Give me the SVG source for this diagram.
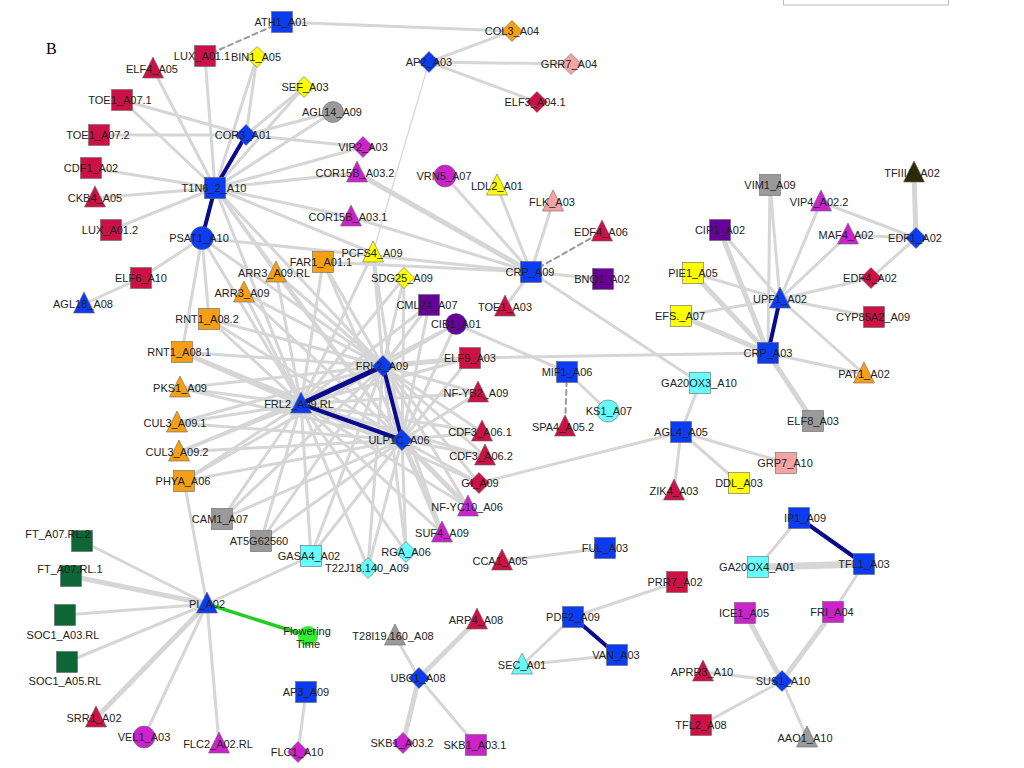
<svg xmlns="http://www.w3.org/2000/svg" xmlns:xlink="http://www.w3.org/1999/xlink" width="1024" height="768" viewBox="0 0 1024 768">
<style>
text{font-family:"Liberation Sans",Arial,sans-serif;font-size:11px;fill:#222;text-anchor:middle}
.e line{stroke:#d6d6d6;stroke-width:3;stroke-linecap:round}
.e line.w{stroke-width:5}
.e line.t{stroke-width:1.2}
.e line.d{stroke:#999;stroke-width:2;stroke-dasharray:5 4}
.e line.b{stroke:#0a0a8c;stroke-width:4}
.e line.g{stroke:#22cc22;stroke-width:3.5}
use,circle{stroke:#666;stroke-width:0.6}
.rd{fill:#cc1144}.bl{fill:#0b3cf2}.or{fill:#f5a014}.yl{fill:#ffff00}.gy{fill:#9a9a9a}
.mg{fill:#cc22cc}.pu{fill:#660099}.cy{fill:#66ffff}.pk{fill:#f5a3a3}.dg{fill:#0d6635}
.ol{fill:#2b2b05}.gr{fill:#33ee33}
</style>
<defs>
<rect id="sq" x="-10.5" y="-10.5" width="21" height="21"/>
<path id="tri" d="M0,-12 L10.5,9 L-10.5,9Z"/>
<path id="dia" d="M0,-10.5 L10.5,0 L0,10.5 L-10.5,0Z"/>
</defs>
<rect width="1024" height="768" fill="#fff"/>
<rect x="783.5" y="-20" width="165" height="25" fill="none" stroke="#bbb" stroke-width="1"/>
<text x="46" y="54" style="font-family:'Liberation Serif',serif;font-size:16px;text-anchor:start;fill:#000">B</text>
<g id="edges" class="e">
<line x1="282" y1="22" x2="512" y2="31"/>
<line x1="512" y1="31" x2="429" y2="62"/>
<line x1="429" y1="62" x2="571" y2="64"/>
<line x1="429" y1="62" x2="537" y2="102"/>
<line class="t" x1="429" y1="62" x2="373" y2="253"/>
<line x1="215" y1="188" x2="205" y2="56"/>
<line x1="215" y1="188" x2="257" y2="57"/>
<line x1="246" y1="135" x2="257" y2="57"/>
<line x1="215" y1="188" x2="304" y2="87"/>
<line x1="246" y1="135" x2="304" y2="87"/>
<line x1="215" y1="188" x2="333" y2="112"/>
<line x1="215" y1="188" x2="153" y2="69"/>
<line x1="215" y1="188" x2="122" y2="100"/>
<line x1="246" y1="135" x2="122" y2="100"/>
<line x1="246" y1="135" x2="99" y2="135"/>
<line x1="246" y1="135" x2="363" y2="147"/>
<line x1="246" y1="135" x2="333" y2="112"/>
<line x1="215" y1="188" x2="91" y2="168"/>
<line x1="215" y1="188" x2="95" y2="198"/>
<line x1="215" y1="188" x2="111" y2="230"/>
<line x1="215" y1="188" x2="363" y2="147"/>
<line x1="215" y1="188" x2="357" y2="173"/>
<line x1="215" y1="188" x2="351" y2="217"/>
<line x1="215" y1="188" x2="373" y2="253"/>
<line x1="215" y1="188" x2="301" y2="404"/>
<line x1="215" y1="188" x2="383" y2="366"/>
<line x1="215" y1="188" x2="402" y2="440"/>
<line x1="215" y1="188" x2="276" y2="273"/>
<line x1="202" y1="238" x2="141" y2="278"/>
<line x1="141" y1="278" x2="84" y2="304"/>
<line x1="202" y1="238" x2="209" y2="319"/>
<line x1="202" y1="238" x2="182" y2="352"/>
<line x1="202" y1="238" x2="531" y2="272"/>
<line x1="202" y1="238" x2="301" y2="404"/>
<line x1="202" y1="238" x2="383" y2="366"/>
<line class="w" x1="357" y1="173" x2="531" y2="272"/>
<line x1="351" y1="217" x2="531" y2="272"/>
<line x1="445" y1="176" x2="531" y2="272"/>
<line x1="497" y1="186" x2="531" y2="272"/>
<line x1="553" y1="202" x2="531" y2="272"/>
<line x1="603" y1="279" x2="531" y2="272"/>
<line x1="505" y1="307" x2="531" y2="272"/>
<line x1="323" y1="262" x2="531" y2="272"/>
<line x1="531" y1="272" x2="700" y2="383"/>
<line x1="456" y1="324" x2="567" y2="372"/>
<line x1="567" y1="372" x2="608" y2="411"/>
<line x1="470" y1="358" x2="768" y2="353"/>
<line x1="479" y1="483" x2="681" y2="432"/>
<line x1="681" y1="432" x2="700" y2="383"/>
<line x1="681" y1="432" x2="674" y2="491"/>
<line x1="681" y1="432" x2="739" y2="483"/>
<line x1="681" y1="432" x2="786" y2="463"/>
<line class="w" x1="768" y1="353" x2="720" y2="230"/>
<line x1="768" y1="353" x2="770" y2="185"/>
<line class="w" x1="768" y1="353" x2="693" y2="273"/>
<line class="w" x1="768" y1="353" x2="681" y2="316"/>
<line x1="768" y1="353" x2="864" y2="374"/>
<line class="w" x1="768" y1="353" x2="813" y2="421"/>
<line x1="780" y1="299" x2="720" y2="230"/>
<line x1="780" y1="299" x2="770" y2="185"/>
<line x1="780" y1="299" x2="821" y2="202"/>
<line x1="780" y1="299" x2="848" y2="235"/>
<line x1="780" y1="299" x2="871" y2="278"/>
<line x1="780" y1="299" x2="874" y2="317"/>
<line x1="780" y1="299" x2="864" y2="374"/>
<line x1="780" y1="299" x2="693" y2="273"/>
<line x1="780" y1="299" x2="681" y2="316"/>
<line class="w" x1="916" y1="238" x2="914" y2="173"/>
<line x1="916" y1="238" x2="821" y2="202"/>
<line x1="916" y1="238" x2="848" y2="235"/>
<line x1="916" y1="238" x2="871" y2="278"/>
<line x1="207" y1="604" x2="82" y2="541"/>
<line class="w" x1="207" y1="604" x2="71" y2="576"/>
<line x1="207" y1="604" x2="65" y2="615"/>
<line x1="207" y1="604" x2="67" y2="662"/>
<line class="w" x1="207" y1="604" x2="96" y2="718"/>
<line x1="207" y1="604" x2="144" y2="737"/>
<line x1="207" y1="604" x2="219" y2="744"/>
<line x1="207" y1="604" x2="311" y2="556"/>
<line x1="207" y1="604" x2="184" y2="481"/>
<line x1="306" y1="692" x2="298" y2="752"/>
<line x1="419" y1="678" x2="395" y2="636"/>
<line class="w" x1="419" y1="678" x2="477" y2="620"/>
<line class="w" x1="419" y1="678" x2="403" y2="743"/>
<line x1="419" y1="678" x2="476" y2="745"/>
<line x1="573" y1="617" x2="522" y2="665"/>
<line x1="522" y1="665" x2="617" y2="655"/>
<line x1="573" y1="617" x2="677" y2="582"/>
<line x1="502" y1="561" x2="605" y2="548"/>
<line x1="799" y1="518" x2="758" y2="567"/>
<line x1="758" y1="567" x2="864" y2="564" style="stroke-width:7"/>
<line x1="864" y1="564" x2="833" y2="612"/>
<line class="w" x1="782" y1="681" x2="745" y2="613"/>
<line class="w" x1="782" y1="681" x2="833" y2="612"/>
<line x1="782" y1="681" x2="703" y2="672"/>
<line x1="782" y1="681" x2="701" y2="725"/>
<line x1="782" y1="681" x2="807" y2="738"/>
<!-- hub FRL2_A09.RL -->
<line x1="301" y1="404" x2="276" y2="273"/>
<line x1="301" y1="404" x2="244" y2="293"/>
<line x1="301" y1="404" x2="323" y2="262"/>
<line x1="301" y1="404" x2="209" y2="319"/>
<line class="w" x1="301" y1="404" x2="182" y2="352"/>
<line x1="301" y1="404" x2="180" y2="388"/>
<line x1="301" y1="404" x2="177" y2="423"/>
<line x1="301" y1="404" x2="179" y2="452"/>
<line x1="301" y1="404" x2="184" y2="481"/>
<line x1="301" y1="404" x2="222" y2="519"/>
<line x1="301" y1="404" x2="261" y2="541"/>
<line x1="301" y1="404" x2="311" y2="556"/>
<line x1="301" y1="404" x2="368" y2="568"/>
<line x1="301" y1="404" x2="406" y2="552"/>
<line x1="301" y1="404" x2="442" y2="533"/>
<line x1="301" y1="404" x2="468" y2="507"/>
<line x1="301" y1="404" x2="479" y2="483"/>
<line x1="301" y1="404" x2="485" y2="456"/>
<line x1="301" y1="404" x2="482" y2="432"/>
<line x1="301" y1="404" x2="478" y2="393"/>
<line x1="301" y1="404" x2="470" y2="358"/>
<line x1="301" y1="404" x2="456" y2="324"/>
<line x1="301" y1="404" x2="429" y2="305"/>
<line x1="301" y1="404" x2="404" y2="278"/>
<line x1="301" y1="404" x2="373" y2="253"/>
<!-- hub FRL2_A09 -->
<line x1="383" y1="366" x2="276" y2="273"/>
<line x1="383" y1="366" x2="244" y2="293"/>
<line x1="383" y1="366" x2="323" y2="262"/>
<line x1="383" y1="366" x2="209" y2="319"/>
<line x1="383" y1="366" x2="182" y2="352"/>
<line x1="383" y1="366" x2="180" y2="388"/>
<line x1="383" y1="366" x2="177" y2="423"/>
<line x1="383" y1="366" x2="179" y2="452"/>
<line x1="383" y1="366" x2="184" y2="481"/>
<line x1="383" y1="366" x2="222" y2="519"/>
<line x1="383" y1="366" x2="261" y2="541"/>
<line x1="383" y1="366" x2="311" y2="556"/>
<line x1="383" y1="366" x2="368" y2="568"/>
<line x1="383" y1="366" x2="406" y2="552"/>
<line x1="383" y1="366" x2="442" y2="533"/>
<line x1="383" y1="366" x2="468" y2="507"/>
<line x1="383" y1="366" x2="479" y2="483"/>
<line x1="383" y1="366" x2="485" y2="456"/>
<line x1="383" y1="366" x2="482" y2="432"/>
<line x1="383" y1="366" x2="478" y2="393"/>
<line class="w" x1="383" y1="366" x2="470" y2="358"/>
<line x1="383" y1="366" x2="456" y2="324"/>
<line x1="383" y1="366" x2="429" y2="305"/>
<line x1="383" y1="366" x2="404" y2="278"/>
<line x1="383" y1="366" x2="373" y2="253"/>
<!-- hub ULP1C_A06 -->
<line x1="402" y1="440" x2="276" y2="273"/>
<line x1="402" y1="440" x2="244" y2="293"/>
<line x1="402" y1="440" x2="323" y2="262"/>
<line x1="402" y1="440" x2="209" y2="319"/>
<line x1="402" y1="440" x2="182" y2="352"/>
<line x1="402" y1="440" x2="180" y2="388"/>
<line x1="402" y1="440" x2="177" y2="423"/>
<line x1="402" y1="440" x2="179" y2="452"/>
<line x1="402" y1="440" x2="184" y2="481"/>
<line x1="402" y1="440" x2="222" y2="519"/>
<line x1="402" y1="440" x2="261" y2="541"/>
<line x1="402" y1="440" x2="311" y2="556"/>
<line x1="402" y1="440" x2="368" y2="568"/>
<line x1="402" y1="440" x2="406" y2="552"/>
<line class="w" x1="402" y1="440" x2="442" y2="533"/>
<line class="w" x1="402" y1="440" x2="468" y2="507"/>
<line x1="402" y1="440" x2="479" y2="483"/>
<line x1="402" y1="440" x2="485" y2="456"/>
<line x1="402" y1="440" x2="482" y2="432"/>
<line x1="402" y1="440" x2="478" y2="393"/>
<line x1="402" y1="440" x2="470" y2="358"/>
<line x1="402" y1="440" x2="456" y2="324"/>
<line x1="402" y1="440" x2="429" y2="305"/>
<line x1="402" y1="440" x2="404" y2="278"/>
<line x1="402" y1="440" x2="373" y2="253"/>
<!-- dashed -->
<line class="d" x1="282" y1="22" x2="205" y2="56"/>
<line class="d" x1="531" y1="272" x2="602" y2="232"/>
<line class="d" x1="567" y1="372" x2="565" y2="427"/>
<!-- strong -->
<line class="b" x1="215" y1="188" x2="246" y2="135"/>
<line class="b" x1="215" y1="188" x2="202" y2="238"/>
<line class="b" x1="301" y1="404" x2="383" y2="366" style="stroke-width:5"/>
<line class="b" x1="301" y1="404" x2="402" y2="440"/>
<line class="b" x1="383" y1="366" x2="402" y2="440"/>
<line class="b" x1="780" y1="299" x2="768" y2="353"/>
<line class="b" x1="799" y1="518" x2="864" y2="564"/>
<line class="b" x1="573" y1="617" x2="617" y2="655"/>
<line class="g" x1="207" y1="604" x2="308" y2="636"/>
</g>
<g id="nodes">
<g id="n_ATH1_A01"><use href="#sq" x="282" y="22" class="bl"/><text x="281" y="26">ATH1_A01</text></g>
<g id="n_LUX_A01.1"><use href="#sq" x="205" y="56" class="rd"/><text x="202" y="60">LUX_A01.1</text></g>
<g id="n_BIN1_A05"><use href="#dia" x="257" y="57" class="yl"/><text x="256" y="61">BIN1_A05</text></g>
<g id="n_ELF4_A05"><use href="#tri" x="153" y="69" class="rd"/><text x="152" y="73">ELF4_A05</text></g>
<g id="n_SEF_A03"><use href="#dia" x="304" y="87" class="yl"/><text x="305" y="91">SEF_A03</text></g>
<g id="n_AGL14_A09"><circle cx="333" cy="112" r="10.5" class="gy"/><text x="332" y="116">AGL14_A09</text></g>
<g id="n_TOE1_A07.1"><use href="#sq" x="122" y="100" class="rd"/><text x="120" y="104">TOE1_A07.1</text></g>
<g id="n_TOE1_A07.2"><use href="#sq" x="99" y="135" class="rd"/><text x="98" y="139">TOE1_A07.2</text></g>
<g id="n_COR3_A01"><use href="#dia" x="246" y="135" class="bl"/><text x="243" y="139">COR3_A01</text></g>
<g id="n_CDF1_A02"><use href="#sq" x="91" y="168" class="rd"/><text x="91" y="172">CDF1_A02</text></g>
<g id="n_T1N6_2_A10"><use href="#sq" x="215" y="188" class="bl"/><text x="214" y="192">T1N6_2_A10</text></g>
<g id="n_CKB4_A05"><use href="#tri" x="95" y="198" class="rd"/><text x="95" y="202">CKB4_A05</text></g>
<g id="n_LUX_A01.2"><use href="#sq" x="111" y="230" class="rd"/><text x="110" y="234">LUX_A01.2</text></g>
<g id="n_PSAT1_A10"><circle cx="202" cy="238" r="11.5" class="bl"/><text x="199" y="242">PSAT1_A10</text></g>
<g id="n_COL3_A04"><use href="#dia" x="512" y="31" class="or"/><text x="512" y="35">COL3_A04</text></g>
<g id="n_AP2_A03"><use href="#dia" x="429" y="62" class="bl"/><text x="429" y="66">AP2_A03</text></g>
<g id="n_GRR7_A04"><use href="#dia" x="571" y="64" class="pk"/><text x="569" y="68">GRR7_A04</text></g>
<g id="n_ELF3_A04.1"><use href="#dia" x="537" y="102" class="rd"/><text x="535" y="106">ELF3_A04.1</text></g>
<g id="n_VIP2_A03"><use href="#dia" x="363" y="147" class="mg"/><text x="363" y="151">VIP2_A03</text></g>
<g id="n_COR15B_A03.2"><use href="#tri" x="357" y="173" class="mg"/><text x="355" y="177">COR15B_A03.2</text></g>
<g id="n_COR15B_A03.1"><use href="#tri" x="351" y="217" class="mg"/><text x="348" y="221">COR15B_A03.1</text></g>
<g id="n_VRN5_A07"><circle cx="445" cy="176" r="11" class="mg"/><text x="444" y="180">VRN5_A07</text></g>
<g id="n_LDL2_A01"><use href="#tri" x="497" y="186" class="yl"/><text x="497" y="190">LDL2_A01</text></g>
<g id="n_FLK_A03"><use href="#tri" x="553" y="202" class="pk"/><text x="552" y="206">FLK_A03</text></g>
<g id="n_EDF4_A06"><use href="#tri" x="602" y="232" class="rd"/><text x="601" y="236">EDF4_A06</text></g>
<g id="n_PCFS4_A09"><use href="#tri" x="373" y="253" class="yl"/><text x="372" y="257">PCFS4_A09</text></g>
<g id="n_VIM1_A09"><use href="#sq" x="770" y="185" class="gy"/><text x="770" y="189">VIM1_A09</text></g>
<g id="n_VIP4_A02.2"><use href="#tri" x="821" y="202" class="mg"/><text x="819" y="206">VIP4_A02.2</text></g>
<g id="n_TFIIIA_A02"><use href="#tri" x="914" y="173" class="ol"/><text x="912" y="177">TFIIIA_A02</text></g>
<g id="n_CIP1_A02"><use href="#sq" x="720" y="230" class="pu"/><text x="720" y="234">CIP1_A02</text></g>
<g id="n_MAF4_A02"><use href="#tri" x="848" y="235" class="mg"/><text x="846" y="239">MAF4_A02</text></g>
<g id="n_EDF1_A02"><use href="#dia" x="916" y="238" class="bl"/><text x="915" y="242">EDF1_A02</text></g>
<g id="n_ELF6_A10"><use href="#sq" x="141" y="278" class="rd"/><text x="141" y="282">ELF6_A10</text></g>
<g id="n_AGL18_A08"><use href="#tri" x="84" y="304" class="bl"/><text x="83" y="308">AGL18_A08</text></g>
<g id="n_ARR3_A09.RL"><use href="#tri" x="276" y="273" class="or"/><text x="274" y="277">ARR3_A09.RL</text></g>
<g id="n_FAR1_A01.1"><use href="#sq" x="323" y="262" class="or"/><text x="321" y="266">FAR1_A01.1</text></g>
<g id="n_ARR3_A09"><use href="#tri" x="244" y="293" class="or"/><text x="242" y="297">ARR3_A09</text></g>
<g id="n_RNT1_A08.2"><use href="#sq" x="209" y="319" class="or"/><text x="207" y="323">RNT1_A08.2</text></g>
<g id="n_RNT1_A08.1"><use href="#sq" x="182" y="352" class="or"/><text x="179" y="356">RNT1_A08.1</text></g>
<g id="n_PKS1_A09"><use href="#tri" x="180" y="388" class="or"/><text x="180" y="392">PKS1_A09</text></g>
<g id="n_FRL2_A09.RL"><use href="#tri" x="301" y="404" class="bl"/><text x="299" y="408">FRL2_A09.RL</text></g>
<g id="n_CUL3_A09.1"><use href="#tri" x="177" y="423" class="or"/><text x="175" y="427">CUL3_A09.1</text></g>
<g id="n_CUL3_A09.2"><use href="#tri" x="179" y="452" class="or"/><text x="177" y="456">CUL3_A09.2</text></g>
<g id="n_PHYA_A06"><use href="#sq" x="184" y="481" class="or"/><text x="183" y="485">PHYA_A06</text></g>
<g id="n_SDG25_A09"><use href="#dia" x="404" y="278" class="yl"/><text x="402" y="282">SDG25_A09</text></g>
<g id="n_CRP_A09"><use href="#sq" x="531" y="272" class="bl"/><text x="530" y="276">CRP_A09</text></g>
<g id="n_BNQ1_A02"><use href="#sq" x="603" y="279" class="pu"/><text x="602" y="283">BNQ1_A02</text></g>
<g id="n_CML24_A07"><use href="#sq" x="429" y="305" class="pu"/><text x="427" y="309">CML24_A07</text></g>
<g id="n_TOE1_A03"><use href="#tri" x="505" y="307" class="rd"/><text x="505" y="311">TOE1_A03</text></g>
<g id="n_CIB1_A01"><circle cx="456" cy="324" r="10.5" class="pu"/><text x="456" y="328">CIB1_A01</text></g>
<g id="n_ELF9_A03"><use href="#sq" x="470" y="358" class="rd"/><text x="470" y="362">ELF9_A03</text></g>
<g id="n_FRL2_A09"><use href="#dia" x="383" y="366" class="bl"/><text x="382" y="370">FRL2_A09</text></g>
<g id="n_MIF1_A06"><use href="#sq" x="567" y="372" class="bl"/><text x="567" y="376">MIF1_A06</text></g>
<g id="n_NF-YB2_A09"><use href="#tri" x="478" y="393" class="rd"/><text x="476" y="397">NF-YB2_A09</text></g>
<g id="n_KS1_A07"><circle cx="608" cy="411" r="11" class="cy"/><text x="609" y="415">KS1_A07</text></g>
<g id="n_SPA4_A05.2"><use href="#tri" x="565" y="427" class="rd"/><text x="563" y="431">SPA4_A05.2</text></g>
<g id="n_CDF3_A06.1"><use href="#tri" x="482" y="432" class="rd"/><text x="480" y="436">CDF3_A06.1</text></g>
<g id="n_ULP1C_A06"><use href="#dia" x="402" y="440" class="bl"/><text x="399" y="444">ULP1C_A06</text></g>
<g id="n_CDF3_A06.2"><use href="#tri" x="485" y="456" class="rd"/><text x="481" y="460">CDF3_A06.2</text></g>
<g id="n_GI_A09"><use href="#dia" x="479" y="483" class="rd"/><text x="480" y="487">GI_A09</text></g>
<g id="n_PIE1_A05"><use href="#sq" x="693" y="273" class="yl"/><text x="693" y="277">PIE1_A05</text></g>
<g id="n_EDF4_A02"><use href="#dia" x="871" y="278" class="rd"/><text x="870" y="282">EDF4_A02</text></g>
<g id="n_UPF1_A02"><use href="#tri" x="780" y="299" class="bl"/><text x="780" y="303">UPF1_A02</text></g>
<g id="n_EFS._A07"><use href="#sq" x="681" y="316" class="yl"/><text x="680" y="320">EFS._A07</text></g>
<g id="n_CYP85A2_A09"><use href="#sq" x="874" y="317" class="rd"/><text x="873" y="321">CYP85A2_A09</text></g>
<g id="n_CRP_A03"><use href="#sq" x="768" y="353" class="bl"/><text x="768" y="357">CRP_A03</text></g>
<g id="n_PAT1_A02"><use href="#tri" x="864" y="374" class="or"/><text x="864" y="378">PAT1_A02</text></g>
<g id="n_GA20OX3_A10"><use href="#sq" x="700" y="383" class="cy"/><text x="699" y="387">GA20OX3_A10</text></g>
<g id="n_ELF8_A03"><use href="#sq" x="813" y="421" class="gy"/><text x="813" y="425">ELF8_A03</text></g>
<g id="n_AGL4_A05"><use href="#sq" x="681" y="432" class="bl"/><text x="681" y="436">AGL4_A05</text></g>
<g id="n_GRP7_A10"><use href="#sq" x="786" y="463" class="pk"/><text x="785" y="467">GRP7_A10</text></g>
<g id="n_DDL_A03"><use href="#sq" x="739" y="483" class="yl"/><text x="739" y="487">DDL_A03</text></g>
<g id="n_ZIK4_A03"><use href="#tri" x="674" y="491" class="rd"/><text x="674" y="495">ZIK4_A03</text></g>
<g id="n_CAM1_A07"><use href="#sq" x="222" y="519" class="gy"/><text x="220" y="523">CAM1_A07</text></g>
<g id="n_AT5G62560"><use href="#sq" x="261" y="541" class="gy"/><text x="259" y="545">AT5G62560</text></g>
<g id="n_GASA4_A02"><use href="#sq" x="311" y="556" class="cy"/><text x="309" y="560">GASA4_A02</text></g>
<g id="n_FT_A07.RL.2"><use href="#sq" x="82" y="541" class="dg"/><text x="58" y="538">FT_A07.RL.2</text></g>
<g id="n_FT_A07.RL.1"><use href="#sq" x="71" y="576" class="dg"/><text x="70" y="573">FT_A07.RL.1</text></g>
<g id="n_SOC1_A03.RL"><use href="#sq" x="65" y="615" class="dg"/><text x="63" y="639">SOC1_A03.RL</text></g>
<g id="n_SOC1_A05.RL"><use href="#sq" x="67" y="662" class="dg"/><text x="65" y="685">SOC1_A05.RL</text></g>
<g id="n_PI_A02"><use href="#tri" x="207" y="604" class="bl"/><text x="207" y="608">PI_A02</text></g>
<g id="n_Flowering_Time"><circle cx="308" cy="636" r="10" class="gr" style="stroke:none"/><text x="307" y="635">Flowering</text><text x="308" y="648">Time</text></g>
<g id="n_AP3_A09"><use href="#sq" x="306" y="692" class="bl"/><text x="306" y="696">AP3_A09</text></g>
<g id="n_SRR1_A02"><use href="#tri" x="96" y="718" class="rd"/><text x="94" y="722">SRR1_A02</text></g>
<g id="n_VEL1_A03"><circle cx="144" cy="737" r="11" class="mg"/><text x="144" y="741">VEL1_A03</text></g>
<g id="n_FLC2_A02.RL"><use href="#tri" x="219" y="744" class="mg"/><text x="218" y="748">FLC2_A02.RL</text></g>
<g id="n_FLC1_A10"><use href="#dia" x="298" y="752" class="mg"/><text x="297" y="756">FLC1_A10</text></g>
<g id="n_NF-YC10_A06"><use href="#tri" x="468" y="507" class="mg"/><text x="467" y="511">NF-YC10_A06</text></g>
<g id="n_SUF4_A09"><use href="#tri" x="442" y="533" class="mg"/><text x="442" y="537">SUF4_A09</text></g>
<g id="n_RGA_A06"><use href="#dia" x="406" y="552" class="cy"/><text x="406" y="556">RGA_A06</text></g>
<g id="n_T22J18.140_A09"><use href="#dia" x="368" y="568" class="cy"/><text x="367" y="572">T22J18.140_A09</text></g>
<g id="n_CCA1_A05"><use href="#tri" x="502" y="561" class="rd"/><text x="500" y="565">CCA1_A05</text></g>
<g id="n_FUL_A03"><use href="#sq" x="605" y="548" class="bl"/><text x="605" y="552">FUL_A03</text></g>
<g id="n_PRR7_A02"><use href="#sq" x="677" y="582" class="rd"/><text x="675" y="586">PRR7_A02</text></g>
<g id="n_ARP4_A08"><use href="#tri" x="477" y="620" class="rd"/><text x="476" y="624">ARP4_A08</text></g>
<g id="n_PDF2_A09"><use href="#sq" x="573" y="617" class="bl"/><text x="573" y="621">PDF2_A09</text></g>
<g id="n_T28I19.160_A08"><use href="#tri" x="395" y="636" class="gy"/><text x="393" y="640">T28I19.160_A08</text></g>
<g id="n_VAN_A03"><use href="#sq" x="617" y="655" class="bl"/><text x="616" y="659">VAN_A03</text></g>
<g id="n_SEC_A01"><use href="#tri" x="522" y="665" class="cy"/><text x="522" y="669">SEC_A01</text></g>
<g id="n_UBC1_A08"><use href="#dia" x="419" y="678" class="bl"/><text x="418" y="682">UBC1_A08</text></g>
<g id="n_SKB1_A03.2"><use href="#dia" x="403" y="743" class="mg"/><text x="402" y="747">SKB1_A03.2</text></g>
<g id="n_SKB1_A03.1"><use href="#sq" x="476" y="745" class="mg"/><text x="475" y="749">SKB1_A03.1</text></g>
<g id="n_IP1_A09"><use href="#sq" x="799" y="518" class="bl"/><text x="805" y="522">IP1_A09</text></g>
<g id="n_TFL1_A03"><use href="#sq" x="864" y="564" class="bl"/><text x="864" y="568">TFL1_A03</text></g>
<g id="n_GA20OX4_A01"><use href="#sq" x="758" y="567" class="cy"/><text x="757" y="571">GA20OX4_A01</text></g>
<g id="n_ICE1_A05"><use href="#sq" x="745" y="613" class="mg"/><text x="744" y="617">ICE1_A05</text></g>
<g id="n_FRI_A04"><use href="#sq" x="833" y="612" class="mg"/><text x="832" y="616">FRI_A04</text></g>
<g id="n_APRR3_A10"><use href="#tri" x="703" y="672" class="rd"/><text x="702" y="676">APRR3_A10</text></g>
<g id="n_SUS1_A10"><use href="#dia" x="782" y="681" class="bl"/><text x="783" y="685">SUS1_A10</text></g>
<g id="n_TFL2_A08"><use href="#sq" x="701" y="725" class="rd"/><text x="701" y="729">TFL2_A08</text></g>
<g id="n_AAO1_A10"><use href="#tri" x="807" y="738" class="gy"/><text x="805" y="742">AAO1_A10</text></g>
</g>
</svg>
